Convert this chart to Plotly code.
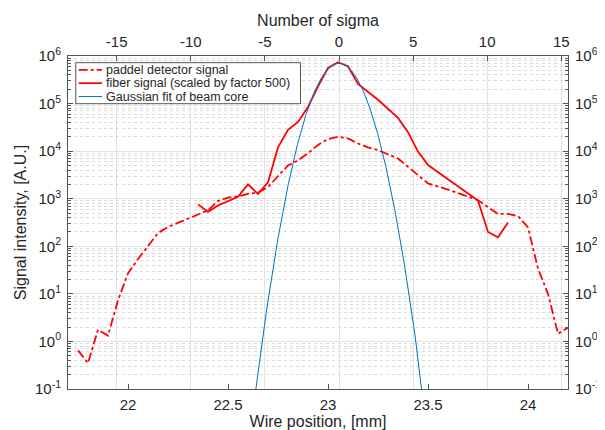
import numpy as np
import plotly.graph_objects as go

# ---------------- data ----------------
paddle_x = [21.75, 21.80, 21.85, 21.90, 21.95, 22.00, 22.05, 22.10, 22.15, 22.20,
            22.25, 22.30, 22.35, 22.40, 22.45, 22.50, 22.55, 22.60, 22.65, 22.70,
            22.75, 22.80, 22.85, 22.90, 22.95, 23.00, 23.05, 23.10, 23.15, 23.20,
            23.25, 23.30, 23.35, 23.40, 23.45, 23.50, 23.60, 23.75, 23.80, 23.85,
            23.90, 23.95, 24.00, 24.05, 24.10, 24.15, 24.20]
paddle_y = [0.65, 0.35, 1.76, 1.33, 7.3, 27, 54, 100, 190, 255,
            310, 390, 460, 570, 900, 1050, 1120, 1270, 1350, 1750,
            3000, 5000, 6400, 9000, 13500, 18000, 20000, 18500, 14500, 12000,
            10500, 8500, 7000, 4700, 3200, 2100, 1550, 930, 665, 480,
            480, 430, 250, 34, 10, 1.45, 1.95]

fiber_x = [22.35, 22.40, 22.45, 22.50, 22.55, 22.60, 22.65, 22.70, 22.75, 22.80,
           22.85, 22.90, 22.95, 23.00, 23.05, 23.10, 23.15, 23.25, 23.35, 23.40,
           23.45, 23.50, 23.75, 23.80, 23.85, 23.90]
fiber_y = [760, 530, 720, 900, 1100, 2000, 1260, 2200, 12000, 28000,
           41000, 85000, 230000, 560000, 740000, 610000, 260000, 120000, 50000, 25000,
           9800, 5100, 920, 200, 155, 316]

# Gaussian fit of the beam core (fit parameters)
gauss_amp = 7.0e5
gauss_mu = 23.055      # mm
gauss_sigma = 0.0741   # mm

x_range = [21.7, 24.2]
x_tick_vals = [22, 22.5, 23, 23.5, 24]
x_tick_text = ["22", "22.5", "23", "23.5", "24"]
sigma_tick_vals = [-15, -10, -5, 0, 5, 10, 15]
sigma_tick_text = ["-15", "-10", "-5", "0", "5", "10", "15"]
y_exps = [-1, 0, 1, 2, 3, 4, 5, 6]

legend_labels = ["paddel detector signal",
                 "fiber signal (scaled by factor 500)",
                 "Gaussian fit of beam core"]

# ---------------- derived ----------------
# Gaussian drawn on the "number of sigma" axis
g_sig = np.linspace(-6.7, 6.7, 400)
g_val = gauss_amp * np.exp(-0.5 * g_sig ** 2)
sigma_range = [(x_range[0] - gauss_mu) / gauss_sigma, (x_range[1] - gauss_mu) / gauss_sigma]

y_tick_vals = [10.0 ** e for e in y_exps]
y_tick_text = ["10<sup>%d</sup>" % e for e in y_exps]
y_minor_vals = [k * 10.0 ** e for e in y_exps[:-1] for k in range(2, 10)]

RED = "#FF0000"
BLUE = "#0072BD"
FONT = "Liberation Sans, Arial, Helvetica, sans-serif"
AX = "#555555"
TXT = "#262626"
GRID = "#e2e2e2"
MGRID = "#dadada"

fig = go.Figure()
fig.add_trace(go.Scatter(x=paddle_x, y=paddle_y, mode="lines", name=legend_labels[0],
                         line=dict(color=RED, width=1.8, dash="dashdot")))
fig.add_trace(go.Scatter(x=fiber_x, y=fiber_y, mode="lines", name=legend_labels[1],
                         line=dict(color=RED, width=1.8)))
fig.add_trace(go.Scatter(x=g_sig, y=g_val, mode="lines", name=legend_labels[2],
                         xaxis="x2", yaxis="y2",
                         line=dict(color=BLUE, width=1)))

W, H = 605, 430
L, R, T, B = 60, 31, 44, 37
pw, ph = W - L - R, H - T - B


def px2paper(px, py):
    return (px - L) / pw, (H - B - py) / ph


axis_common = dict(showline=True, linecolor=AX, linewidth=1, zeroline=False,
                   tickcolor=AX, ticks="inside", ticklen=5,
                   tickfont=dict(family=FONT, size=15, color=TXT))

fig.update_layout(
    width=W, height=H,
    margin=dict(l=L, r=R, t=T, b=B),
    paper_bgcolor="white", plot_bgcolor="white",
    showlegend=False,
    font=dict(family=FONT, color=TXT),
    xaxis=dict(range=x_range, tickmode="array", tickvals=x_tick_vals, ticktext=x_tick_text,
               showgrid=False, ticklabelstandoff=2,
               title=dict(text="Wire position, [mm]", font=dict(size=16, family=FONT, color=TXT),
                          standoff=2),
               **axis_common),
    xaxis2=dict(overlaying="x", side="top", anchor="y2", range=sigma_range,
                tickmode="array", tickvals=sigma_tick_vals, ticktext=sigma_tick_text,
                showgrid=True, gridcolor=GRID, gridwidth=1, ticklabelstandoff=2,
                title=dict(text="Number of sigma", font=dict(size=16, family=FONT, color=TXT),
                           standoff=2),
                **axis_common),
    yaxis=dict(type="log", range=[-1, 6], tickmode="array", tickvals=y_tick_vals,
               ticktext=y_tick_text, showgrid=True, gridcolor=GRID, gridwidth=1,
               ticklabelstandoff=3,
               minor=dict(tickmode="array", tickvals=y_minor_vals, ticks="inside", ticklen=3,
                          tickcolor=AX, showgrid=True, gridcolor=MGRID, griddash="dot"),
               title=dict(text="Signal intensity, [A.U.]", font=dict(size=16, family=FONT, color=TXT),
                          standoff=4),
               **axis_common),
    yaxis2=dict(type="log", range=[-1, 6], overlaying="y", side="right", anchor="x2",
                tickmode="array", tickvals=y_tick_vals, ticktext=y_tick_text,
                showgrid=False, ticklabelstandoff=3,
                minor=dict(tickmode="array", tickvals=y_minor_vals, ticks="inside", ticklen=3,
                           tickcolor=AX, showgrid=False),
                **axis_common),
)

# ---------------- legend box (drawn as in the reference) ----------------
x0, y0 = px2paper(68, 51)
x1, y1 = px2paper(299, 94)
shapes = [dict(type="rect", xref="paper", yref="paper", x0=x0, y0=y1, x1=x1, y1=y0,
               fillcolor="white", line=dict(color="#555555", width=1), layer="above")]
annotations = []
rows = [58.5, 72.5, 86.5]
styles = [dict(color=RED, width=1.8, dash="dashdot"), dict(color=RED, width=1.8),
          dict(color=BLUE, width=1)]
for ry, st, lab in zip(rows, styles, legend_labels):
    lx0, ly = px2paper(71, ry)
    lx1, _ = px2paper(95, ry)
    shapes.append(dict(type="line", xref="paper", yref="paper", x0=lx0, x1=lx1, y0=ly, y1=ly,
                       line=st, layer="above"))
    tx, _ = px2paper(98, ry)
    annotations.append(dict(xref="paper", yref="paper", x=tx, y=ly, text=lab, showarrow=False,
                            xanchor="left", yanchor="middle", borderpad=0,
                            font=dict(family=FONT, size=12.5, color=TXT)))
fig.update_layout(shapes=shapes, annotations=annotations)

fig.write_html("out.html")
